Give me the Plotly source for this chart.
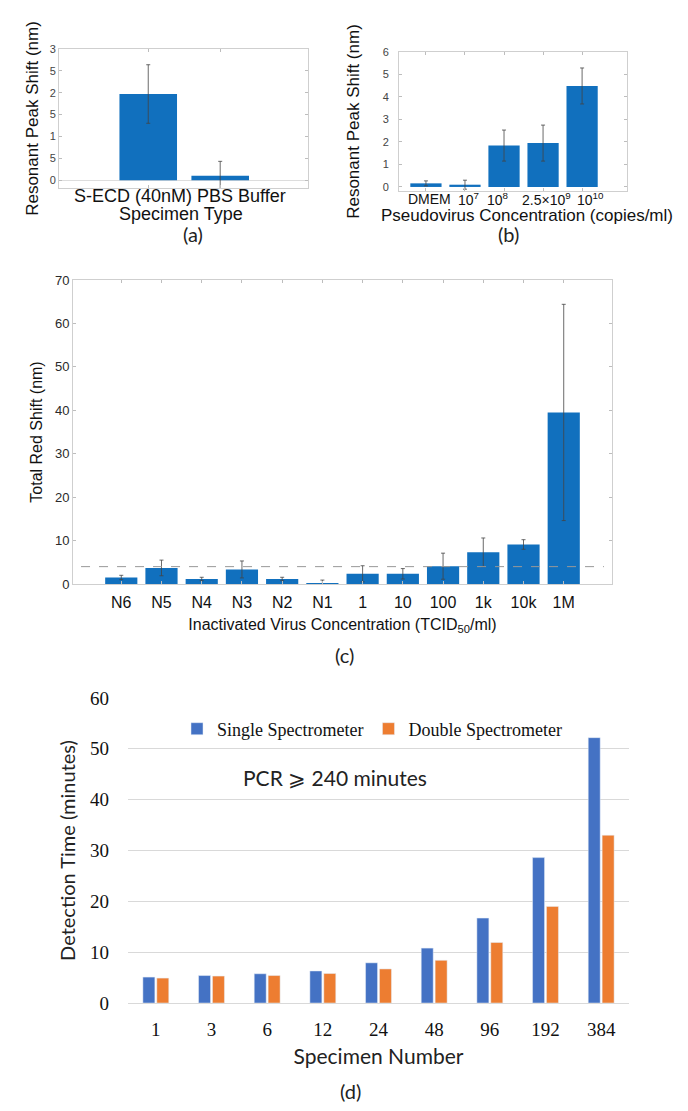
import plotly.graph_objects as go

# The page is 688x1111; the HTML body adds an 8px margin, so the figure itself is 680x1103
W, H = 688, 1111
OFF = 8
FW, FH = W - OFF, H - OFF

# ---------------- data ----------------
# (a)
a_cats = ["S-ECD (40nM)", "PBS Buffer"]
a_vals = [1.97, 0.10]
a_err = [0.67, 0.33]
a_ytickvals = [0, 0.5, 1, 1.5, 2, 2.5, 3]
a_yticktext = ["0", "5", "1", "5", "2", "5", "3"]

# (b)
b_cats = ["DMEM", "10<sup>7</sup>", "10<sup>8</sup>", "2.5×10<sup>9</sup>", "10<sup>10</sup>"]
b_vals = [0.16, 0.10, 1.84, 1.95, 4.49]
b_err = [0.11, 0.20, 0.69, 0.80, 0.80]

# (c)
c_cats = ["N6", "N5", "N4", "N3", "N2", "N1", "1", "10", "100", "1k", "10k", "1M"]
c_vals = [1.5, 3.7, 1.15, 3.35, 1.15, 0.1, 2.35, 2.35, 4.1, 7.3, 9.1, 39.5]
c_err = [0.5, 1.8, 0.4, 1.95, 0.4, 0.8, 1.85, 1.2, 3.0, 3.3, 1.1, 24.9]
c_threshold = 4.0

# (d)
d_cats = ["1", "3", "6", "12", "24", "48", "96", "192", "384"]
d_single = [5.1, 5.4, 5.75, 6.3, 7.9, 10.8, 16.7, 28.6, 52.2]
d_double = [4.9, 5.3, 5.4, 5.8, 6.7, 8.4, 11.9, 19.0, 33.0]

# ---------------- style ----------------
MBLUE = "#1170BE"
SANS = "Liberation Sans, Arial, sans-serif"
SERIF = "Liberation Serif, Times New Roman, serif"
LIGHT = "Lato, Noto Sans, sans-serif"
FRAME = "#cfcfcf"
TXT = "#333333"

# label nudges (pixels) of the category labels in (a) and (b), as in the original figure
a_label_shift = [-15, 21]
b_label_shift = [4, 4, -6, 3, 8]


def px_x(p):
    return (p - OFF) / FW


def px_y(p):
    return 1 - (p - OFF) / FH


fig = go.Figure()

err_style = dict(type="data", visible=True, color="#444444", thickness=0.8, width=2)

fig.add_trace(go.Bar(x=a_cats, y=a_vals, width=0.8, marker=dict(color=MBLUE, line=dict(width=0)),
                     error_y=dict(array=a_err, **err_style), xaxis="x", yaxis="y", showlegend=False))
fig.add_trace(go.Bar(x=b_cats, y=b_vals, width=0.8, marker=dict(color=MBLUE, line=dict(width=0)),
                     error_y=dict(array=b_err, **err_style), xaxis="x2", yaxis="y2", showlegend=False))
fig.add_trace(go.Bar(x=c_cats, y=c_vals, width=0.8, marker=dict(color=MBLUE, line=dict(width=0)),
                     error_y=dict(array=c_err, **err_style), xaxis="x3", yaxis="y3", showlegend=False))
fig.add_trace(go.Bar(x=d_cats, y=d_single, name="Single Spectrometer", marker=dict(color="#4472C4"),
                     xaxis="x4", yaxis="y4"))
fig.add_trace(go.Bar(x=d_cats, y=d_double, name="Double Spectrometer", marker=dict(color="#ED7D31"),
                     xaxis="x4", yaxis="y4"))

frame_axis = dict(showline=True, linecolor=FRAME, linewidth=1, mirror="ticks", ticks="inside",
                  ticklen=3, tickcolor="#bdbdbd", showgrid=False, zeroline=False, automargin=False)

fig.update_layout(
    width=FW, height=FH, margin=dict(l=0, r=0, t=0, b=0, autoexpand=False),
    paper_bgcolor="white", plot_bgcolor="white",
    font=dict(family=SANS, color=TXT),
    barmode="group", bargap=0.5, bargroupgap=0.14,
    # (a)
    xaxis=dict(domain=[px_x(59), px_x(308)], anchor="y", range=[-1.24, 2.22],
               showticklabels=False, **frame_axis),
    yaxis=dict(domain=[px_y(188), px_y(49)], anchor="x", range=[-0.18, 3],
               tickvals=a_ytickvals, ticktext=a_yticktext, tickfont=dict(size=11, color="#444"),
               title=dict(text="Resonant Peak Shift (nm)", font=dict(size=17, color="#111"), standoff=6),
               **{**frame_axis, "zeroline": True}, zerolinecolor="#dddddd", zerolinewidth=1),
    # (b)
    xaxis2=dict(domain=[px_x(399), px_x(627)], anchor="y2", range=[-0.69, 5.15],
                showticklabels=False, **frame_axis),
    yaxis2=dict(domain=[px_y(191), px_y(52)], anchor="x2", range=[-0.18, 6], dtick=1,
                tickfont=dict(size=11, color="#444"), ticklabelstandoff=7,
                title=dict(text="Resonant Peak Shift (nm)", font=dict(size=17, color="#111"), standoff=18),
                **frame_axis),
    # (c)
    xaxis3=dict(domain=[px_x(73), px_x(612)], anchor="y3", range=[-1.2, 12.2],
                tickfont=dict(size=16, color="#111"), ticklabelstandoff=4,
                title=dict(text="Inactivated Virus Concentration (TCID<sub>50</sub>/ml)",
                           font=dict(size=16, color="#111"), standoff=8),
                **frame_axis),
    yaxis3=dict(domain=[px_y(584), px_y(280)], anchor="x3", range=[0, 70], dtick=10,
                tickfont=dict(size=13, color="#2a2a2a"),
                title=dict(text="Total Red Shift (nm)", font=dict(size=16, color="#111"), standoff=8),
                **frame_axis),
    # (d)
    xaxis4=dict(domain=[px_x(128), px_x(629)], anchor="y4", range=[-0.5, 8.5], automargin=False,
                showline=True, linecolor="#d9d9d9", linewidth=1, ticks="", showgrid=False,
                tickfont=dict(size=19, family=SERIF, color="#111"), ticklabelstandoff=9,
                title=dict(text="Specimen Number", font=dict(size=21, family=LIGHT, color="#222"),
                           standoff=10)),
    yaxis4=dict(domain=[px_y(1003), px_y(698)], anchor="x4", range=[0, 60], dtick=10, automargin=False,
                showline=False, ticks="", showgrid=True, gridcolor="#d9d9d9", gridwidth=1, zeroline=False,
                tickfont=dict(size=19, family=SERIF, color="#111"), ticklabelstandoff=18,
                title=dict(text="Detection Time (minutes)",
                           font=dict(size=20, family=LIGHT, color="#222"), standoff=9)),
    legend=dict(orientation="h", x=px_x(372), xanchor="center", y=px_y(729), yanchor="middle",
                font=dict(family=SERIF, size=18, color="#111"), bgcolor="rgba(0,0,0,0)",
                itemwidth=30, traceorder="normal"),
)

fig.add_shape(type="line", xref="x3", yref="y3", x0=-1, x1=12, y0=c_threshold, y1=c_threshold,
              line=dict(color="#999999", width=1, dash="dash"))

# category labels of (a) and (b), tied to their categories
for cat, dx in zip(a_cats, a_label_shift):
    fig.add_annotation(text=cat, x=cat, xref="x", y=px_y(196), yref="paper", xshift=dx,
                       xanchor="center", yanchor="middle", showarrow=False,
                       font=dict(family=SANS, size=18, color="#111"))
for cat, dx in zip(b_cats, b_label_shift):
    fig.add_annotation(text=cat, x=cat, xref="x2", y=px_y(199), yref="paper", xshift=dx,
                       xanchor="center", yanchor="middle", showarrow=False,
                       font=dict(family=SANS, size=14, color="#111"))

# x titles of (a) and (b)
fig.add_annotation(text="Specimen Type", x=px_x(181), y=px_y(214), xref="paper", yref="paper",
                   xanchor="center", yanchor="middle", showarrow=False,
                   font=dict(family=SANS, size=18, color="#111"))
fig.add_annotation(text="Pseudovirus Concentration (copies/ml)", x=px_x(527), y=px_y(215),
                   xref="paper", yref="paper", xanchor="center", yanchor="middle", showarrow=False,
                   font=dict(family=SANS, size=17, color="#111"))

labels = [("(a)", 193, 234), ("(b)", 508, 234), ("(c)", 344, 655), ("(d)", 350, 1091)]
for t, x, y in labels:
    fig.add_annotation(text=t, x=px_x(x), y=px_y(y), xref="paper", yref="paper",
                       xanchor="center", yanchor="middle", showarrow=False,
                       font=dict(family=LIGHT, size=20, color="#222"))

fig.add_annotation(text="PCR ⩾ 240 minutes", x=px_x(335), y=px_y(777), xref="paper", yref="paper",
                   xanchor="center", yanchor="middle", showarrow=False,
                   font=dict(family=LIGHT, size=21, color="#222"))

fig.write_html("out.html")
